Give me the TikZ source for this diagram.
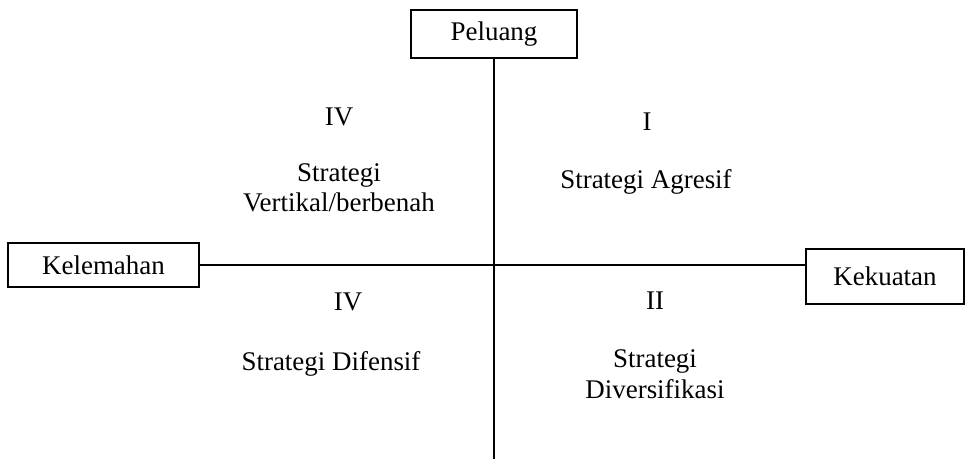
\documentclass[tikz,border=0pt]{standalone}
\usepackage{fontspec}
\setmainfont{Liberation Serif}
\usetikzlibrary{positioning}
\tikzset{
    mybox/.style = {rectangle, draw=black, line width=1.6pt, align=center, inner sep=0pt, font=\fontsize{23}{26}\selectfont, text=black},
    mytext/.style = {align=center, inner sep=0pt, font=\fontsize{23}{26}\selectfont, text=black},
    edgeaxis/.style = {-, line width=1.6pt, black}
}
\begin{document}
\begin{tikzpicture}[x=0.03cm, y=-0.03cm]
  \useasboundingbox (0,0) rectangle (972,465);
  % boxes
  \node[mybox, minimum width=4.98cm, minimum height=1.44cm] (peluang) at (494,34) {Peluang};
  \node[mybox, minimum width=5.73cm, minimum height=1.32cm] (kelemahan) at (103.5,265) {Kelemahan};
  \node[mybox, minimum width=4.74cm, minimum height=1.65cm] (kekuatan) at (885,276.5) {Kekuatan};
  \coordinate (bawah) at (494,459);
  % axes
  \draw[edgeaxis] (peluang.south) -- (bawah);
  \draw[edgeaxis] (kelemahan.east) -- (kelemahan.east -| kekuatan.west);
  % quadrants
  \node[mytext, anchor=base] (q4a) at (339,125) {IV};
  \node[mytext] (s4a) at (339,188) {Strategi\\Vertikal/berbenah};
  \node[mytext, anchor=base] (q1) at (647,130) {I};
  \node[mytext, anchor=base] (s1) at (646,188) {Strategi Agresif};
  \node[mytext, anchor=base] (q4b) at (348,310) {IV};
  \node[mytext, anchor=base] (s4b) at (331,370) {Strategi Difensif};
  \node[mytext, anchor=base] (q2) at (655,309) {II};
  \node[mytext] (s2) at (655,374) {Strategi\\Diversifikasi};
\end{tikzpicture}
\end{document}
